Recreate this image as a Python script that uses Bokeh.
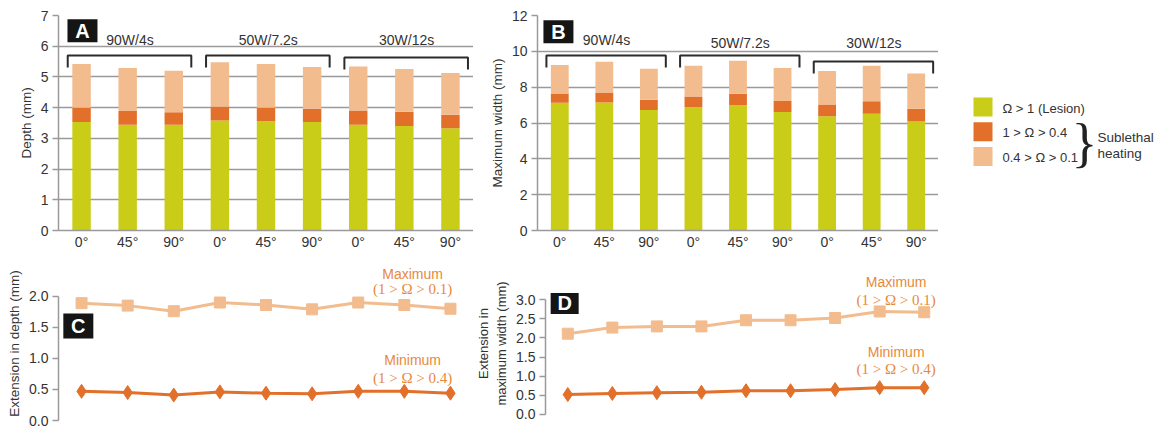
from bokeh.plotting import figure
from bokeh.layouts import row, column
from bokeh.models import Range1d, FixedTicker, Label, ColumnDataSource, NumeralTickFormatter
from bokeh.core.properties import value
from bokeh.embed import file_html
from bokeh.resources import INLINE

# ---------------- data ----------------
orientations = ["0°", "45°", "90°", "0°", "45°", "90°", "0°", "45°", "90°"]
groups = ["90W/4s", "50W/7.2s", "30W/12s"]
group_members = [[1, 2, 3], [4, 5, 6], [7, 8, 9]]

depth_lesion = [3.53, 3.44, 3.44, 3.58, 3.56, 3.53, 3.44, 3.40, 3.33]
depth_ext_min = [0.47, 0.45, 0.41, 0.46, 0.44, 0.43, 0.47, 0.47, 0.44]
depth_ext_max = [1.89, 1.85, 1.76, 1.90, 1.86, 1.79, 1.90, 1.86, 1.80]

width_lesion = [7.13, 7.15, 6.73, 6.90, 7.01, 6.61, 6.38, 6.51, 6.09]
width_ext_min = [0.52, 0.55, 0.57, 0.58, 0.62, 0.62, 0.65, 0.70, 0.70]
width_ext_max = [2.11, 2.27, 2.30, 2.30, 2.46, 2.46, 2.52, 2.69, 2.67]

depth_ticks = [0, 1, 2, 3, 4, 5, 6, 7]
width_ticks = [0, 2, 4, 6, 8, 10, 12]
depth_ext_ticks = [0.0, 0.5, 1.0, 1.5, 2.0]
width_ext_ticks = [0.0, 0.5, 1.0, 1.5, 2.0, 2.5, 3.0]

x_title = "Catheter orientation"
legend_labels = ["Ω > 1 (Lesion)", "1 > Ω > 0.4", "0.4 > Ω > 0.1"]
sublethal_labels = ["Sublethal", "heating"]
line_labels = ["Maximum", "(1 > Ω > 0.1)", "Minimum", "(1 > Ω > 0.4)"]

# ---------------- style ----------------
GREEN = "#C9CD17"
ORANGE = "#E2702A"
PEACH = "#F2BC8E"
TXT_ORANGE = "#E8893A"
GRAY = "#9A9A9A"
TXT = "#333333"
SANS = "Liberation Sans"
SERIF = "Liberation Serif"

TOP_BORDER, TOP_FRAME, TOP_BOTTOM = 15, 215, 36
BOT_FRAME, BOT_BOTTOM = 154, 10


def style_y(p, ticks, label, fmt=None, size="13.5px"):
    ax = p.yaxis[0]
    ax.ticker = FixedTicker(ticks=ticks)
    if fmt:
        ax.formatter = NumeralTickFormatter(format=fmt)
    ax.axis_line_color = GRAY
    ax.axis_line_width = 1.5
    ax.major_tick_line_color = GRAY
    ax.major_tick_line_width = 1.5
    ax.major_tick_out = 6
    ax.major_tick_in = 0
    ax.minor_tick_line_color = None
    ax.minor_tick_out = 0
    ax.minor_tick_in = 0
    ax.major_label_text_font = SANS
    ax.major_label_text_font_size = "14px"
    ax.major_label_text_color = TXT
    ax.major_label_standoff = 4
    ax.axis_label = label
    ax.axis_label_text_font = SANS
    ax.axis_label_text_font_size = size
    ax.axis_label_text_font_style = "normal"
    ax.axis_label_text_color = TXT
    ax.axis_label_standoff = 4


def badge(p, xy, letter, w, h):
    p.rect(x=[xy[0]], y=[xy[1]], width=w, height=h,
           width_units="screen", height_units="screen",
           fill_color="#151515", line_color=None)
    p.text(x=[xy[0]], y=[xy[1]], text=[letter], text_align="center",
           text_baseline="middle", text_font=value(SANS), text_font_style="bold",
           text_font_size="20px", text_color="white")


def bar_panel(lesion, ext_min, ext_max, ticks, ylabel, letter, badge_xy,
              bracket_top, bracket_drop, label_y, border_left, frame_w):
    n = len(lesion)
    x = list(range(1, n + 1))
    mid = [l + m for l, m in zip(lesion, ext_min)]
    top = [l + m for l, m in zip(lesion, ext_max)]
    src = ColumnDataSource(dict(x=x, zero=[0] * n, lesion=lesion, mid=mid, top=top))
    p = figure(frame_width=frame_w, frame_height=TOP_FRAME,
               x_range=Range1d(0.5, n + 0.5), y_range=Range1d(0, ticks[-1]),
               min_border_left=border_left, min_border_right=0,
               min_border_top=TOP_BORDER, min_border_bottom=TOP_BOTTOM,
               output_backend="svg", toolbar_location=None,
               outline_line_color=None, background_fill_color="white",
               border_fill_color="white")
    p.vbar(x="x", bottom="zero", top="lesion", width=0.4, fill_color=GREEN,
           line_color=None, source=src)
    p.vbar(x="x", bottom="lesion", top="mid", width=0.4, fill_color=ORANGE,
           line_color=None, source=src)
    p.vbar(x="x", bottom="mid", top="top", width=0.4, fill_color=PEACH,
           line_color=None, source=src)

    style_y(p, ticks, ylabel)
    p.xgrid.visible = False
    p.ygrid.grid_line_color = GRAY
    p.ygrid.grid_line_width = 1.5
    p.ygrid.ticker = FixedTicker(ticks=ticks)

    xa = p.xaxis[0]
    xa.ticker = FixedTicker(ticks=x)
    xa.major_label_overrides = {i: o for i, o in zip(x, orientations)}
    xa.axis_line_color = GRAY
    xa.axis_line_width = 1.5
    xa.major_tick_line_color = None
    xa.major_tick_out = 0
    xa.major_tick_in = 0
    xa.minor_tick_line_color = None
    xa.minor_tick_out = 0
    xa.minor_tick_in = 0
    xa.major_label_text_font = SANS
    xa.major_label_text_font_size = "14px"
    xa.major_label_text_color = TXT
    xa.major_label_standoff = 3

    # x-axis title as an annotation in the bottom border (27 px below the axis)
    ppu = TOP_FRAME / ticks[-1]
    p.add_layout(Label(x=(n + 1) / 2, y=-27 / ppu, text=x_title, text_align="center",
                       text_baseline="middle", text_font=SANS, text_font_size="14px",
                       text_color=TXT))

    # group brackets
    xs, ys = [], []
    for mem, bt in zip(group_members, bracket_top):
        x0, x1 = mem[0] - 0.3, mem[-1] + 0.38
        xs.append([x0, x0, x1, x1])
        ys.append([bt - bracket_drop, bt, bt, bt - bracket_drop])
    p.multi_line(xs, ys, line_color="#2b2b2b", line_width=2)
    p.text(x=[m[1] + 0.05 for m in group_members], y=label_y, text=groups,
           text_align="center", text_baseline="middle",
           text_font=value(SANS), text_font_size="14px", text_color=TXT)

    badge(p, badge_xy, letter, 30, 23)
    return p


def line_panel(ext_min, ext_max, ticks, ylabel, letter, badge_xy, badge_wh, y_start,
               y_end, border_left, frame_w, label_x, label_ys, ylabel_size):
    n = len(ext_min)
    x = list(range(1, n + 1))
    p = figure(frame_width=frame_w, frame_height=BOT_FRAME,
               x_range=Range1d(0.5, n + 0.5), y_range=Range1d(y_start, y_end),
               min_border_left=border_left, min_border_right=0,
               min_border_top=0, min_border_bottom=BOT_BOTTOM,
               output_backend="svg", toolbar_location=None,
               outline_line_color=None, background_fill_color="white",
               border_fill_color="white")
    p.xaxis.visible = False
    p.grid.visible = False
    style_y(p, ticks, ylabel, fmt="0.0", size=ylabel_size)
    p.yaxis[0].bounds = (ticks[0], ticks[-1])

    p.line(x, ext_max, line_color=PEACH, line_width=3)
    p.scatter(x, ext_max, marker="square", size=11, fill_color=PEACH, line_color=PEACH)
    p.line(x, ext_min, line_color=ORANGE, line_width=3)
    p.scatter(x, ext_min, marker="diamond", size=14, fill_color=ORANGE, line_color=ORANGE)

    for txt, ly in zip(line_labels, label_ys):
        serif = txt.startswith("(")
        p.add_layout(Label(x=label_x, y=ly, text=txt, text_align="center",
                           text_baseline="middle",
                           text_font=SERIF if serif else SANS,
                           text_font_size="15px" if serif else "14px",
                           text_color=TXT_ORANGE))
    badge(p, badge_xy, letter, badge_wh[0], badge_wh[1])
    return p


pA = bar_panel(depth_lesion, depth_ext_min, depth_ext_max, depth_ticks, "Depth (mm)",
               "A", (1.02, 6.5), [5.7, 5.7, 5.63], 0.39, [6.2, 6.2, 6.2], 58, 415)
pB = bar_panel(width_lesion, width_ext_min, width_ext_max, width_ticks,
               "Maximum width (mm)", "B", (0.97, 11.1), [9.77, 9.77, 9.43], 0.67,
               [10.66, 10.44, 10.44], 64, 401)

pC = line_panel(depth_ext_min, depth_ext_max, depth_ext_ticks, "Extension in depth (mm)",
                "C", (0.93, 1.52), (30, 25), 0.0, 2.48, 58, 415, 8.18,
                [2.36, 2.12, 0.97, 0.68], "13.5px")
pD = line_panel(width_ext_min, width_ext_max, width_ext_ticks,
                "Extension in\nmaximum width (mm)", "D", (0.93, 2.90), (28, 21),
                -0.157, 3.864, 64, 401, 8.37, [3.45, 3.0, 1.64, 1.2], "13px")

# ---------------- legend panel (frame aligned with the top row) ----------------
L = figure(frame_width=224, frame_height=TOP_FRAME,
           x_range=Range1d(938, 1162), y_range=Range1d(TOP_BORDER + TOP_FRAME, TOP_BORDER),
           min_border_left=0, min_border_right=0, min_border_top=TOP_BORDER,
           min_border_bottom=TOP_BOTTOM, x_axis_type=None, y_axis_type=None,
           output_backend="svg", toolbar_location=None, outline_line_color=None,
           background_fill_color="white", border_fill_color="white")
L.grid.visible = False
sw_y = [106.5 + 24.75 * i for i in range(len(legend_labels))]
L.rect(x=[982.5] * 3, y=sw_y, width=19, height=19,
       fill_color=[GREEN, ORANGE, PEACH], line_color=None)
L.text(x=[1002] * 3, y=[y + 1 for y in sw_y], text=legend_labels, text_align="left",
       text_baseline="middle", text_font=value(SANS), text_font_size="13px",
       text_color=TXT)
L.text(x=[1084], y=[142.5], text=["}"], text_align="center", text_baseline="middle",
       text_font=value(SERIF), text_font_size="54px", text_color="#222222")
L.text(x=[1097] * 2, y=[137, 153], text=sublethal_labels, text_align="left",
       text_baseline="middle", text_font=value(SANS), text_font_size="13.5px",
       text_color=TXT)

layout = column(row(pA, pB, L), row(pC, pD))

open("out.html", "w").write(file_html(layout, INLINE))
